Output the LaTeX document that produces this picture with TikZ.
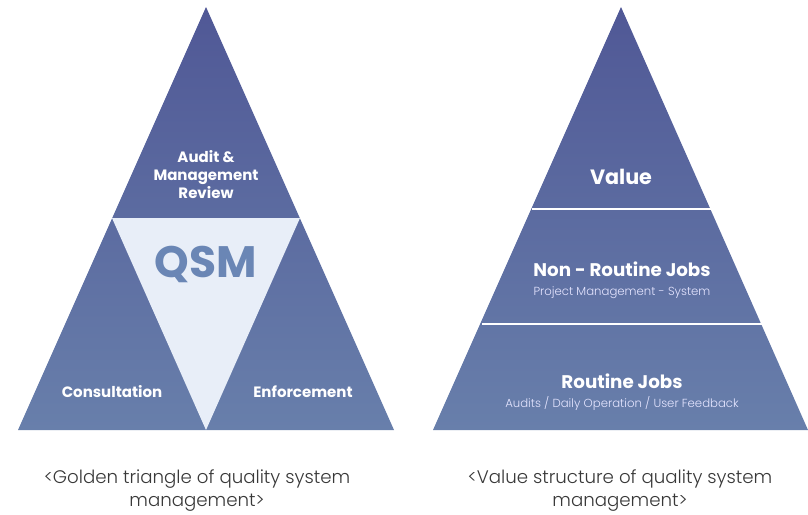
\documentclass[tikz,border=0pt]{standalone}
\usepackage{fontspec}
\setmainfont{Poppins}
\IfFontExistsTF{Poppins Light}{\newfontfamily\poplight{Poppins Light}}{\newfontfamily\poplight{Poppins}}
\begin{document}
\begin{tikzpicture}[x=1pt,y=-1pt,
  lbl/.style={font=\bfseries\fontsize{15}{18}\selectfont, text=white, align=center, inner sep=0},
  big/.style={font=\bfseries\fontsize{18.3}{20}\selectfont, text=white, inner sep=0},
  sub/.style={font=\poplight\fontsize{11.7}{13}\selectfont, text=white!90!blue, inner sep=0},
  captxt/.style={font=\poplight\fontsize{18.2}{23}\selectfont, text=black!78, align=center, inner sep=0},
  divider/.style={draw=white, line width=1.6pt}]
\definecolor{topc}{RGB}{80,88,150}
\definecolor{botc}{RGB}{104,127,171}
\definecolor{inner}{RGB}{232,238,248}
\definecolor{qsmc}{RGB}{106,134,181}
\useasboundingbox (0,0) rectangle (808,514);
% left triangle
\coordinate (LA) at (206,7);
\coordinate (LL) at (18,430);
\coordinate (LR) at (394,430);
\coordinate (LML) at (112,218);
\coordinate (LMR) at (300,218);
\coordinate (LB) at (206,430);
\shade[top color=topc, bottom color=botc] (LA) -- (LR) -- (LL) -- cycle;
\fill[inner] (LML) -- (LMR) -- (LB) -- cycle;
\node[lbl] (audit) at (206,175) {Audit \&\\Management\\Review};
\node[font=\bfseries\fontsize{44}{44}\selectfont, text=qsmc, inner sep=0] (qsm) at (206,264) {QSM};
\node[lbl] (cons) at (112,392) {Consultation};
\node[lbl] (enf) at (303,392) {Enforcement};
% right triangle
\coordinate (RA) at (621,7);
\coordinate (RL) at (433,430);
\coordinate (RR) at (808,430);
\shade[top color=topc, bottom color=botc] (RA) -- (RR) -- (RL) -- cycle;
\coordinate (d1l) at (532,209);
\coordinate (d1r) at (711,209);
\coordinate (d2l) at (482,324);
\coordinate (d2r) at (762,324);
\draw[divider] (d1l) -- (d1r);
\draw[divider] (d2l) -- (d2r);
\node[font=\bfseries\fontsize{20.7}{22}\selectfont, text=white, inner sep=0] (val) at (621,177) {Value};
\node[big] (nrj) at (622,269) {Non - Routine Jobs};
\node[sub] (pms) at (622,292.5) {Project Management - System};
\node[big] (rj) at (622,381) {Routine Jobs};
\node[sub] (adu) at (622,403.5) {Audits / Daily Operation / User Feedback};
% captions
\node[captxt] (capl) at (197,491) {<Golden triangle of quality system\\management>};
\node[captxt] (capr) at (620,491) {<Value structure of quality system\\management>};
\end{tikzpicture}
\end{document}
